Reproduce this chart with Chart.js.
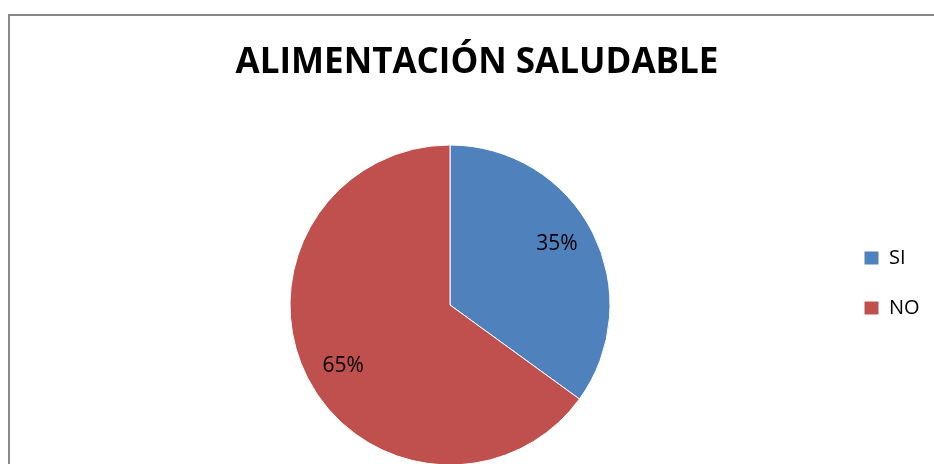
<!DOCTYPE html>
<html>
<head>
<meta charset="utf-8">
<script src="https://cdn.jsdelivr.net/npm/chart.js@4"></script>
<style>
  html, body { margin: 0; padding: 0; overflow: hidden; background: #fff; }
  #marco {
    position: absolute; left: 8px; top: 14px; width: 1000px; height: 1000px;
    border: 2px solid #888888; pointer-events: none;
  }
  #grafico { position: absolute; left: 0; top: 0; }
</style>
</head>
<body>
<canvas id="grafico" width="934" height="520"></canvas>
<div id="marco"></div>
<script>
const categorias = ['SI', 'NO'];
const valores = [35, 65];
const colores = ['#4F81BD', '#C0504D'];
const titulo = 'ALIMENTACIÓN SALUDABLE';

// etiquetas de porcentaje dentro de cada porción
const etiquetasPorcentaje = {
  id: 'etiquetasPorcentaje',
  afterDatasetsDraw(chart) {
    const ctx = chart.ctx;
    const total = valores.reduce((a, b) => a + b, 0);
    const arcos = chart.getDatasetMeta(0).data;
    ctx.save();
    ctx.font = '21px "Open Sans"';
    ctx.fillStyle = '#000';
    ctx.textAlign = 'center';
    ctx.textBaseline = 'middle';
    arcos.forEach((arco, i) => {
      const { x, y, startAngle, endAngle, outerRadius } = arco.getProps(['x', 'y', 'startAngle', 'endAngle', 'outerRadius'], true);
      const medio = (startAngle + endAngle) / 2 - 0.05;
      const r = outerRadius * 0.77;
      const texto = Math.round(valores[i] / total * 100) + '%';
      ctx.fillText(texto, x + Math.cos(medio) * r, y + Math.sin(medio) * r);
    });
    ctx.restore();
  }
};

new Chart(document.getElementById('grafico').getContext('2d'), {
  type: 'pie',
  data: {
    labels: categorias,
    datasets: [{
      data: valores,
      backgroundColor: colores,
      borderColor: '#ffffff',
      borderWidth: 1,
      radius: 160
    }]
  },
  options: {
    responsive: false,
    animation: false,
    layout: {
      padding: { left: 30, right: 10, top: 46, bottom: 0 }
    },
    scales: {
      // eje vacío que solo empuja la torta hacia la derecha
      espacio: {
        type: 'linear',
        position: 'left',
        display: true,
        grid: { display: false },
        border: { display: false },
        ticks: { display: false },
        afterFit: (escala) => { escala.width = 36; }
      }
    },
    plugins: {
      title: {
        display: true,
        text: titulo,
        color: '#000',
        font: { family: '"Open Sans"', size: 35, weight: 'bold', lineHeight: 1 },
        padding: { top: 0, bottom: 9 }
      },
      legend: {
        position: 'right',
        maxWidth: 90,
        labels: {
          color: '#000',
          font: { family: '"Open Sans"', size: 20 },
          boxWidth: 15,
          boxHeight: 14,
          padding: 30
        }
      },
      tooltip: { enabled: false }
    }
  },
  plugins: [etiquetasPorcentaje]
});
</script>
</body>
</html>
